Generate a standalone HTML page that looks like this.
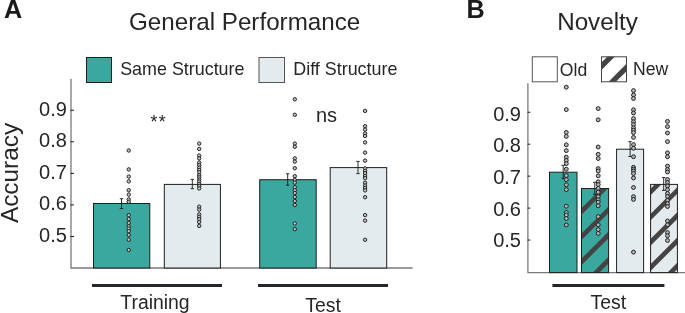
<!DOCTYPE html>
<html><head><meta charset="utf-8"><style>
html,body{margin:0;padding:0;background:#fff;}
svg{display:block;will-change:transform;}
text{font-family:"Liberation Sans", sans-serif;}
</style></head><body>
<svg width="685" height="313" viewBox="0 0 685 313">
<defs><clipPath id="lgnew"><rect x="601.5" y="56.8" width="25" height="25"/></clipPath><clipPath id="hb2"><rect x="581.5" y="188.5" width="27.100000000000023" height="84.10000000000002"/></clipPath><clipPath id="hb4"><rect x="650.6" y="184.4" width="26.799999999999955" height="88.20000000000002"/></clipPath></defs>
<rect width="685" height="313" fill="#fff"/>
<text x="4.1" y="18.0" font-size="25.2" text-anchor="start" font-weight="bold" fill="#1a1a1a" >A</text>
<text x="129.0" y="29.7" font-size="24.2" text-anchor="start" font-weight="normal" fill="#262626" >General Performance</text>
<text x="466.536" y="17.5" font-size="25.2" text-anchor="start" font-weight="bold" fill="#1a1a1a" >B</text>
<text x="557.2" y="29.6" font-size="24.2" text-anchor="start" font-weight="normal" fill="#262626" >Novelty</text>
<rect x="86.5" y="57.5" width="25" height="25" fill="#3aa89e" stroke="#1e1e1e" stroke-width="1"/>
<text x="120.2" y="75.4" font-size="17.9" text-anchor="start" font-weight="normal" fill="#262626" >Same Structure</text>
<rect x="259" y="57.5" width="25.5" height="25" fill="#e3ebee" stroke="#555" stroke-width="1"/>
<text x="293.3" y="75.4" font-size="17.9" text-anchor="start" font-weight="normal" fill="#262626" >Diff Structure</text>
<path d="M71 78.7V268.0H412.6" stroke="#7a7a7a" stroke-width="1.3" fill="none"/>
<path d="M70.4 236.45H74" stroke="#1e1e1e" stroke-width="1.0"/>
<text x="66.9" y="241.75" font-size="20" text-anchor="end" font-weight="normal" fill="#262626" >0.5</text>
<path d="M70.4 204.90H74" stroke="#1e1e1e" stroke-width="1.0"/>
<text x="66.9" y="210.2" font-size="20" text-anchor="end" font-weight="normal" fill="#262626" >0.6</text>
<path d="M70.4 173.35H74" stroke="#1e1e1e" stroke-width="1.0"/>
<text x="66.9" y="178.65" font-size="20" text-anchor="end" font-weight="normal" fill="#262626" >0.7</text>
<path d="M70.4 141.80H74" stroke="#1e1e1e" stroke-width="1.0"/>
<text x="66.9" y="147.1" font-size="20" text-anchor="end" font-weight="normal" fill="#262626" >0.8</text>
<path d="M70.4 110.25H74" stroke="#1e1e1e" stroke-width="1.0"/>
<text x="66.9" y="115.55" font-size="20" text-anchor="end" font-weight="normal" fill="#262626" >0.9</text>
<text transform="translate(17.6 223.1) rotate(-90)" font-size="24.4" fill="#262626">Accuracy</text>
<rect x="93.5" y="203.5" width="56.30000000000001" height="64.5" fill="#3aa89e"/>
<rect x="93.5" y="203.5" width="56.30000000000001" height="64.5" fill="none" stroke="#1e1e1e" stroke-width="1.0"/>
<rect x="164.3" y="184.4" width="56.099999999999994" height="83.6" fill="#e3ebee"/>
<rect x="164.3" y="184.4" width="56.099999999999994" height="83.6" fill="none" stroke="#1e1e1e" stroke-width="1.0"/>
<rect x="259.7" y="179.7" width="56.5" height="88.30000000000001" fill="#3aa89e"/>
<rect x="259.7" y="179.7" width="56.5" height="88.30000000000001" fill="none" stroke="#1e1e1e" stroke-width="1.0"/>
<rect x="330.2" y="167.6" width="56.5" height="100.4" fill="#e3ebee"/>
<rect x="330.2" y="167.6" width="56.5" height="100.4" fill="none" stroke="#1e1e1e" stroke-width="1.0"/>
<path d="M121.5 198.7V208.5M119.8 198.7H123.2M119.8 208.5H123.2" stroke="#1a1a1a" stroke-width="0.9" fill="none"/>
<path d="M192.3 179.4V188.7M190.60000000000002 179.4H194.0M190.60000000000002 188.7H194.0" stroke="#1a1a1a" stroke-width="0.9" fill="none"/>
<path d="M287.7 173.8V185.2M286.0 173.8H289.4M286.0 185.2H289.4" stroke="#1a1a1a" stroke-width="0.9" fill="none"/>
<path d="M358.0 161.4V173.6M356.3 161.4H359.7M356.3 173.6H359.7" stroke="#1a1a1a" stroke-width="0.9" fill="none"/>
<circle cx="128.75" cy="150.5" r="1.7" fill="#c4c4c4" stroke="#222" stroke-width="1.0"/>
<circle cx="128.75" cy="169.4" r="1.7" fill="#c4c4c4" stroke="#222" stroke-width="1.0"/>
<circle cx="128.75" cy="176.6" r="1.7" fill="#c4c4c4" stroke="#222" stroke-width="1.0"/>
<circle cx="128.75" cy="181.4" r="1.7" fill="#c4c4c4" stroke="#222" stroke-width="1.0"/>
<circle cx="128.75" cy="190.2" r="1.7" fill="#c4c4c4" stroke="#222" stroke-width="1.0"/>
<circle cx="128.75" cy="194.6" r="1.7" fill="#c4c4c4" stroke="#222" stroke-width="1.0"/>
<circle cx="128.75" cy="199.4" r="1.7" fill="#c4c4c4" stroke="#222" stroke-width="1.0"/>
<circle cx="128.75" cy="201.8" r="1.7" fill="#c4c4c4" stroke="#222" stroke-width="1.0"/>
<circle cx="128.75" cy="215.2" r="1.7" fill="#c4c4c4" stroke="#222" stroke-width="1.0"/>
<circle cx="128.75" cy="219" r="1.7" fill="#c4c4c4" stroke="#222" stroke-width="1.0"/>
<circle cx="128.75" cy="222.9" r="1.7" fill="#c4c4c4" stroke="#222" stroke-width="1.0"/>
<circle cx="128.75" cy="226.2" r="1.7" fill="#c4c4c4" stroke="#222" stroke-width="1.0"/>
<circle cx="128.75" cy="228.6" r="1.7" fill="#c4c4c4" stroke="#222" stroke-width="1.0"/>
<circle cx="128.75" cy="231.2" r="1.7" fill="#c4c4c4" stroke="#222" stroke-width="1.0"/>
<circle cx="128.75" cy="235" r="1.7" fill="#c4c4c4" stroke="#222" stroke-width="1.0"/>
<circle cx="128.75" cy="239.7" r="1.7" fill="#c4c4c4" stroke="#222" stroke-width="1.0"/>
<circle cx="128.75" cy="250" r="1.7" fill="#c4c4c4" stroke="#222" stroke-width="1.0"/>
<circle cx="199.2" cy="143.6" r="1.7" fill="#c4c4c4" stroke="#222" stroke-width="1.0"/>
<circle cx="199.2" cy="148.9" r="1.7" fill="#c4c4c4" stroke="#222" stroke-width="1.0"/>
<circle cx="199.2" cy="155.6" r="1.7" fill="#c4c4c4" stroke="#222" stroke-width="1.0"/>
<circle cx="199.2" cy="158.4" r="1.7" fill="#c4c4c4" stroke="#222" stroke-width="1.0"/>
<circle cx="199.2" cy="162.6" r="1.7" fill="#c4c4c4" stroke="#222" stroke-width="1.0"/>
<circle cx="199.2" cy="165" r="1.7" fill="#c4c4c4" stroke="#222" stroke-width="1.0"/>
<circle cx="199.2" cy="167.6" r="1.7" fill="#c4c4c4" stroke="#222" stroke-width="1.0"/>
<circle cx="199.2" cy="170" r="1.7" fill="#c4c4c4" stroke="#222" stroke-width="1.0"/>
<circle cx="199.2" cy="172.4" r="1.7" fill="#c4c4c4" stroke="#222" stroke-width="1.0"/>
<circle cx="199.2" cy="175.2" r="1.7" fill="#c4c4c4" stroke="#222" stroke-width="1.0"/>
<circle cx="199.2" cy="177.4" r="1.7" fill="#c4c4c4" stroke="#222" stroke-width="1.0"/>
<circle cx="199.2" cy="179.6" r="1.7" fill="#c4c4c4" stroke="#222" stroke-width="1.0"/>
<circle cx="199.2" cy="181.6" r="1.7" fill="#c4c4c4" stroke="#222" stroke-width="1.0"/>
<circle cx="199.2" cy="184" r="1.7" fill="#c4c4c4" stroke="#222" stroke-width="1.0"/>
<circle cx="199.2" cy="186" r="1.7" fill="#c4c4c4" stroke="#222" stroke-width="1.0"/>
<circle cx="199.2" cy="188.4" r="1.7" fill="#c4c4c4" stroke="#222" stroke-width="1.0"/>
<circle cx="199.2" cy="206.7" r="1.7" fill="#c4c4c4" stroke="#222" stroke-width="1.0"/>
<circle cx="199.2" cy="209.6" r="1.7" fill="#c4c4c4" stroke="#222" stroke-width="1.0"/>
<circle cx="199.2" cy="214.4" r="1.7" fill="#c4c4c4" stroke="#222" stroke-width="1.0"/>
<circle cx="199.2" cy="216.8" r="1.7" fill="#c4c4c4" stroke="#222" stroke-width="1.0"/>
<circle cx="199.2" cy="219.2" r="1.7" fill="#c4c4c4" stroke="#222" stroke-width="1.0"/>
<circle cx="199.2" cy="222" r="1.7" fill="#c4c4c4" stroke="#222" stroke-width="1.0"/>
<circle cx="199.2" cy="225.9" r="1.7" fill="#c4c4c4" stroke="#222" stroke-width="1.0"/>
<circle cx="294.8" cy="99.3" r="1.7" fill="#c4c4c4" stroke="#222" stroke-width="1.0"/>
<circle cx="294.8" cy="114.8" r="1.7" fill="#c4c4c4" stroke="#222" stroke-width="1.0"/>
<circle cx="294.8" cy="143.6" r="1.7" fill="#c4c4c4" stroke="#222" stroke-width="1.0"/>
<circle cx="294.8" cy="146.8" r="1.7" fill="#c4c4c4" stroke="#222" stroke-width="1.0"/>
<circle cx="294.8" cy="158.4" r="1.7" fill="#c4c4c4" stroke="#222" stroke-width="1.0"/>
<circle cx="294.8" cy="161.6" r="1.7" fill="#c4c4c4" stroke="#222" stroke-width="1.0"/>
<circle cx="294.8" cy="168.2" r="1.7" fill="#c4c4c4" stroke="#222" stroke-width="1.0"/>
<circle cx="294.8" cy="176.2" r="1.7" fill="#c4c4c4" stroke="#222" stroke-width="1.0"/>
<circle cx="294.8" cy="179.8" r="1.7" fill="#c4c4c4" stroke="#222" stroke-width="1.0"/>
<circle cx="294.8" cy="182.6" r="1.7" fill="#c4c4c4" stroke="#222" stroke-width="1.0"/>
<circle cx="294.8" cy="187.2" r="1.7" fill="#c4c4c4" stroke="#222" stroke-width="1.0"/>
<circle cx="294.8" cy="190.2" r="1.7" fill="#c4c4c4" stroke="#222" stroke-width="1.0"/>
<circle cx="294.8" cy="193" r="1.7" fill="#c4c4c4" stroke="#222" stroke-width="1.0"/>
<circle cx="294.8" cy="197" r="1.7" fill="#c4c4c4" stroke="#222" stroke-width="1.0"/>
<circle cx="294.8" cy="201" r="1.7" fill="#c4c4c4" stroke="#222" stroke-width="1.0"/>
<circle cx="294.8" cy="205" r="1.7" fill="#c4c4c4" stroke="#222" stroke-width="1.0"/>
<circle cx="294.8" cy="223.5" r="1.7" fill="#c4c4c4" stroke="#222" stroke-width="1.0"/>
<circle cx="294.8" cy="229.1" r="1.7" fill="#c4c4c4" stroke="#222" stroke-width="1.0"/>
<circle cx="365.1" cy="110.9" r="1.7" fill="#c4c4c4" stroke="#222" stroke-width="1.0"/>
<circle cx="365.1" cy="126.2" r="1.7" fill="#c4c4c4" stroke="#222" stroke-width="1.0"/>
<circle cx="365.1" cy="129.6" r="1.7" fill="#c4c4c4" stroke="#222" stroke-width="1.0"/>
<circle cx="365.1" cy="133.5" r="1.7" fill="#c4c4c4" stroke="#222" stroke-width="1.0"/>
<circle cx="365.1" cy="136" r="1.7" fill="#c4c4c4" stroke="#222" stroke-width="1.0"/>
<circle cx="365.1" cy="142.4" r="1.7" fill="#c4c4c4" stroke="#222" stroke-width="1.0"/>
<circle cx="365.1" cy="152.6" r="1.7" fill="#c4c4c4" stroke="#222" stroke-width="1.0"/>
<circle cx="365.1" cy="160.6" r="1.7" fill="#c4c4c4" stroke="#222" stroke-width="1.0"/>
<circle cx="365.1" cy="168.4" r="1.7" fill="#c4c4c4" stroke="#222" stroke-width="1.0"/>
<circle cx="365.1" cy="170.8" r="1.7" fill="#c4c4c4" stroke="#222" stroke-width="1.0"/>
<circle cx="365.1" cy="173.2" r="1.7" fill="#c4c4c4" stroke="#222" stroke-width="1.0"/>
<circle cx="365.1" cy="176" r="1.7" fill="#c4c4c4" stroke="#222" stroke-width="1.0"/>
<circle cx="365.1" cy="178.2" r="1.7" fill="#c4c4c4" stroke="#222" stroke-width="1.0"/>
<circle cx="365.1" cy="182.8" r="1.7" fill="#c4c4c4" stroke="#222" stroke-width="1.0"/>
<circle cx="365.1" cy="185.6" r="1.7" fill="#c4c4c4" stroke="#222" stroke-width="1.0"/>
<circle cx="365.1" cy="188" r="1.7" fill="#c4c4c4" stroke="#222" stroke-width="1.0"/>
<circle cx="365.1" cy="190.4" r="1.7" fill="#c4c4c4" stroke="#222" stroke-width="1.0"/>
<circle cx="365.1" cy="197.2" r="1.7" fill="#c4c4c4" stroke="#222" stroke-width="1.0"/>
<circle cx="365.1" cy="215.1" r="1.7" fill="#c4c4c4" stroke="#222" stroke-width="1.0"/>
<circle cx="365.1" cy="220.6" r="1.7" fill="#c4c4c4" stroke="#222" stroke-width="1.0"/>
<circle cx="365.1" cy="239.8" r="1.7" fill="#c4c4c4" stroke="#222" stroke-width="1.0"/>
<rect x="92" y="284" width="130" height="3" fill="#24282c"/>
<rect x="258" y="284" width="130" height="3" fill="#24282c"/>
<text x="120.3" y="309.3" font-size="19.4" text-anchor="start" font-weight="normal" fill="#262626" >Training</text>
<text x="305.3" y="311.8" font-size="19.4" text-anchor="start" font-weight="normal" fill="#262626" >Test</text>
<text x="150.4" y="128.0" font-size="17.8" text-anchor="start" font-weight="normal" fill="#222" >*</text>
<text x="158.7" y="128.0" font-size="17.8" text-anchor="start" font-weight="normal" fill="#222" >*</text>
<text x="315.9" y="121.6" font-size="20" text-anchor="start" font-weight="normal" fill="#262626" >ns</text>
<rect x="532.3" y="56.8" width="25" height="25" fill="#ffffff" stroke="#555" stroke-width="1"/>
<text x="559.8" y="75.7" font-size="17.6" text-anchor="start" font-weight="normal" fill="#262626" >Old</text>
<rect x="601.5" y="56.8" width="25" height="25" fill="#ffffff"/>
<g clip-path="url(#lgnew)" fill="#444444"><polygon points="596.50,-11.40 631.50,-46.40 631.50,-39.00 596.50,-4.00"/><polygon points="596.50,14.90 631.50,-20.10 631.50,-12.70 596.50,22.30"/><polygon points="596.50,41.20 631.50,6.20 631.50,13.60 596.50,48.60"/><polygon points="596.50,67.50 631.50,32.50 631.50,39.90 596.50,74.90"/><polygon points="596.50,93.80 631.50,58.80 631.50,66.20 596.50,101.20"/><polygon points="596.50,120.10 631.50,85.10 631.50,92.50 596.50,127.50"/><polygon points="596.50,146.40 631.50,111.40 631.50,118.80 596.50,153.80"/><polygon points="596.50,172.70 631.50,137.70 631.50,145.10 596.50,180.10"/></g>
<rect x="601.5" y="56.8" width="25" height="25" fill="none" stroke="#444" stroke-width="1"/>
<text x="633.1" y="75.4" font-size="17.6" text-anchor="start" font-weight="normal" fill="#262626" >New</text>
<path d="M527.9 83.2V272.6H685" stroke="#7a7a7a" stroke-width="1.3" fill="none"/>
<path d="M527.6 240.05H530.3" stroke="#1e1e1e" stroke-width="1.0"/>
<text x="521.0" y="247.1" font-size="20" text-anchor="end" font-weight="normal" fill="#262626" >0.5</text>
<path d="M527.6 208.10H530.3" stroke="#1e1e1e" stroke-width="1.0"/>
<text x="521.0" y="215.5" font-size="20" text-anchor="end" font-weight="normal" fill="#262626" >0.6</text>
<path d="M527.6 176.15H530.3" stroke="#1e1e1e" stroke-width="1.0"/>
<text x="521.0" y="183.9" font-size="20" text-anchor="end" font-weight="normal" fill="#262626" >0.7</text>
<path d="M527.6 144.20H530.3" stroke="#1e1e1e" stroke-width="1.0"/>
<text x="521.0" y="152.3" font-size="20" text-anchor="end" font-weight="normal" fill="#262626" >0.8</text>
<path d="M527.6 112.25H530.3" stroke="#1e1e1e" stroke-width="1.0"/>
<text x="521.0" y="120.7" font-size="20" text-anchor="end" font-weight="normal" fill="#262626" >0.9</text>
<rect x="549.5" y="172.2" width="27.5" height="100.40000000000003" fill="#3aa89e"/>
<rect x="549.5" y="172.2" width="27.5" height="100.40000000000003" fill="none" stroke="#1e1e1e" stroke-width="1.0"/>
<rect x="581.5" y="188.5" width="27.100000000000023" height="84.10000000000002" fill="#3aa89e"/>
<g clip-path="url(#hb2)" fill="#444444"><polygon points="576.50,137.60 613.60,100.50 613.60,107.10 576.50,144.20"/><polygon points="576.50,162.80 613.60,125.70 613.60,132.30 576.50,169.40"/><polygon points="576.50,188.00 613.60,150.90 613.60,157.50 576.50,194.60"/><polygon points="576.50,213.20 613.60,176.10 613.60,182.70 576.50,219.80"/><polygon points="576.50,238.40 613.60,201.30 613.60,207.90 576.50,245.00"/><polygon points="576.50,263.60 613.60,226.50 613.60,233.10 576.50,270.20"/><polygon points="576.50,288.80 613.60,251.70 613.60,258.30 576.50,295.40"/><polygon points="576.50,314.00 613.60,276.90 613.60,283.50 576.50,320.60"/><polygon points="576.50,339.20 613.60,302.10 613.60,308.70 576.50,345.80"/><polygon points="576.50,364.40 613.60,327.30 613.60,333.90 576.50,371.00"/></g>
<rect x="581.5" y="188.5" width="27.100000000000023" height="84.10000000000002" fill="none" stroke="#1e1e1e" stroke-width="1.0"/>
<rect x="616.6" y="149.2" width="27.0" height="123.40000000000003" fill="#e3ebee"/>
<rect x="616.6" y="149.2" width="27.0" height="123.40000000000003" fill="none" stroke="#1e1e1e" stroke-width="1.0"/>
<rect x="650.6" y="184.4" width="26.799999999999955" height="88.20000000000002" fill="#e3ebee"/>
<g clip-path="url(#hb4)" fill="#444444"><polygon points="645.60,118.00 682.40,81.20 682.40,87.80 645.60,124.60"/><polygon points="645.60,143.20 682.40,106.40 682.40,113.00 645.60,149.80"/><polygon points="645.60,168.40 682.40,131.60 682.40,138.20 645.60,175.00"/><polygon points="645.60,193.60 682.40,156.80 682.40,163.40 645.60,200.20"/><polygon points="645.60,218.80 682.40,182.00 682.40,188.60 645.60,225.40"/><polygon points="645.60,244.00 682.40,207.20 682.40,213.80 645.60,250.60"/><polygon points="645.60,269.20 682.40,232.40 682.40,239.00 645.60,275.80"/><polygon points="645.60,294.40 682.40,257.60 682.40,264.20 645.60,301.00"/><polygon points="645.60,319.60 682.40,282.80 682.40,289.40 645.60,326.20"/><polygon points="645.60,344.80 682.40,308.00 682.40,314.60 645.60,351.40"/><polygon points="645.60,370.00 682.40,333.20 682.40,339.80 645.60,376.60"/></g>
<rect x="650.6" y="184.4" width="26.799999999999955" height="88.20000000000002" fill="none" stroke="#1e1e1e" stroke-width="1.0"/>
<path d="M563.2 165.3V178.6M561.5 165.3H564.9000000000001M561.5 178.6H564.9000000000001" stroke="#1a1a1a" stroke-width="0.9" fill="none"/>
<path d="M594.8 182.3V194.3M593.0999999999999 182.3H596.5M593.0999999999999 194.3H596.5" stroke="#1a1a1a" stroke-width="0.9" fill="none"/>
<path d="M630.1 141.6V156.5M628.4 141.6H631.8000000000001M628.4 156.5H631.8000000000001" stroke="#1a1a1a" stroke-width="0.9" fill="none"/>
<path d="M663.7 177.5V190.4M662.0 177.5H665.4000000000001M662.0 190.4H665.4000000000001" stroke="#1a1a1a" stroke-width="0.9" fill="none"/>
<circle cx="566.3" cy="87.2" r="1.95" fill="#b4b4b4" stroke="#222" stroke-width="1.0"/>
<circle cx="566.3" cy="109.6" r="1.95" fill="#b4b4b4" stroke="#222" stroke-width="1.0"/>
<circle cx="566.3" cy="132.4" r="1.95" fill="#b4b4b4" stroke="#222" stroke-width="1.0"/>
<circle cx="566.3" cy="136.4" r="1.95" fill="#b4b4b4" stroke="#222" stroke-width="1.0"/>
<circle cx="566.3" cy="144.8" r="1.95" fill="#b4b4b4" stroke="#222" stroke-width="1.0"/>
<circle cx="566.3" cy="150.6" r="1.95" fill="#b4b4b4" stroke="#222" stroke-width="1.0"/>
<circle cx="566.3" cy="157.2" r="1.95" fill="#b4b4b4" stroke="#222" stroke-width="1.0"/>
<circle cx="566.3" cy="160.4" r="1.95" fill="#b4b4b4" stroke="#222" stroke-width="1.0"/>
<circle cx="566.3" cy="163.6" r="1.95" fill="#b4b4b4" stroke="#222" stroke-width="1.0"/>
<circle cx="566.3" cy="169.2" r="1.95" fill="#b4b4b4" stroke="#222" stroke-width="1.0"/>
<circle cx="566.3" cy="175.6" r="1.95" fill="#b4b4b4" stroke="#222" stroke-width="1.0"/>
<circle cx="566.3" cy="179.6" r="1.95" fill="#b4b4b4" stroke="#222" stroke-width="1.0"/>
<circle cx="566.3" cy="184.8" r="1.95" fill="#b4b4b4" stroke="#222" stroke-width="1.0"/>
<circle cx="566.3" cy="189.6" r="1.95" fill="#b4b4b4" stroke="#222" stroke-width="1.0"/>
<circle cx="566.3" cy="206.2" r="1.95" fill="#b4b4b4" stroke="#222" stroke-width="1.0"/>
<circle cx="566.3" cy="212.5" r="1.95" fill="#b4b4b4" stroke="#222" stroke-width="1.0"/>
<circle cx="566.3" cy="215" r="1.95" fill="#b4b4b4" stroke="#222" stroke-width="1.0"/>
<circle cx="566.3" cy="218.5" r="1.95" fill="#b4b4b4" stroke="#222" stroke-width="1.0"/>
<circle cx="566.3" cy="225" r="1.95" fill="#b4b4b4" stroke="#222" stroke-width="1.0"/>
<circle cx="598.2" cy="108.6" r="1.95" fill="#b4b4b4" stroke="#222" stroke-width="1.0"/>
<circle cx="598.2" cy="119.8" r="1.95" fill="#b4b4b4" stroke="#222" stroke-width="1.0"/>
<circle cx="598.2" cy="147" r="1.95" fill="#b4b4b4" stroke="#222" stroke-width="1.0"/>
<circle cx="598.2" cy="154.3" r="1.95" fill="#b4b4b4" stroke="#222" stroke-width="1.0"/>
<circle cx="598.2" cy="158.5" r="1.95" fill="#b4b4b4" stroke="#222" stroke-width="1.0"/>
<circle cx="598.2" cy="168.6" r="1.95" fill="#b4b4b4" stroke="#222" stroke-width="1.0"/>
<circle cx="598.2" cy="171" r="1.95" fill="#b4b4b4" stroke="#222" stroke-width="1.0"/>
<circle cx="598.2" cy="175.8" r="1.95" fill="#b4b4b4" stroke="#222" stroke-width="1.0"/>
<circle cx="598.2" cy="181.8" r="1.95" fill="#b4b4b4" stroke="#222" stroke-width="1.0"/>
<circle cx="598.2" cy="184.6" r="1.95" fill="#b4b4b4" stroke="#222" stroke-width="1.0"/>
<circle cx="598.2" cy="188.4" r="1.95" fill="#b4b4b4" stroke="#222" stroke-width="1.0"/>
<circle cx="598.2" cy="192.2" r="1.95" fill="#b4b4b4" stroke="#222" stroke-width="1.0"/>
<circle cx="598.2" cy="196.6" r="1.95" fill="#b4b4b4" stroke="#222" stroke-width="1.0"/>
<circle cx="598.2" cy="199.8" r="1.95" fill="#b4b4b4" stroke="#222" stroke-width="1.0"/>
<circle cx="598.2" cy="202.2" r="1.95" fill="#b4b4b4" stroke="#222" stroke-width="1.0"/>
<circle cx="598.2" cy="205.8" r="1.95" fill="#b4b4b4" stroke="#222" stroke-width="1.0"/>
<circle cx="598.2" cy="216.6" r="1.95" fill="#b4b4b4" stroke="#222" stroke-width="1.0"/>
<circle cx="598.2" cy="224.8" r="1.95" fill="#b4b4b4" stroke="#222" stroke-width="1.0"/>
<circle cx="598.2" cy="229.6" r="1.95" fill="#b4b4b4" stroke="#222" stroke-width="1.0"/>
<circle cx="598.2" cy="233.4" r="1.95" fill="#b4b4b4" stroke="#222" stroke-width="1.0"/>
<circle cx="633.5" cy="90.6" r="1.95" fill="#b4b4b4" stroke="#222" stroke-width="1.0"/>
<circle cx="633.5" cy="95" r="1.95" fill="#b4b4b4" stroke="#222" stroke-width="1.0"/>
<circle cx="633.5" cy="98.5" r="1.95" fill="#b4b4b4" stroke="#222" stroke-width="1.0"/>
<circle cx="633.5" cy="109.8" r="1.95" fill="#b4b4b4" stroke="#222" stroke-width="1.0"/>
<circle cx="633.5" cy="113" r="1.95" fill="#b4b4b4" stroke="#222" stroke-width="1.0"/>
<circle cx="633.5" cy="118.6" r="1.95" fill="#b4b4b4" stroke="#222" stroke-width="1.0"/>
<circle cx="633.5" cy="121.8" r="1.95" fill="#b4b4b4" stroke="#222" stroke-width="1.0"/>
<circle cx="633.5" cy="124.6" r="1.95" fill="#b4b4b4" stroke="#222" stroke-width="1.0"/>
<circle cx="633.5" cy="127.8" r="1.95" fill="#b4b4b4" stroke="#222" stroke-width="1.0"/>
<circle cx="633.5" cy="130.2" r="1.95" fill="#b4b4b4" stroke="#222" stroke-width="1.0"/>
<circle cx="633.5" cy="132.6" r="1.95" fill="#b4b4b4" stroke="#222" stroke-width="1.0"/>
<circle cx="633.5" cy="137.4" r="1.95" fill="#b4b4b4" stroke="#222" stroke-width="1.0"/>
<circle cx="633.5" cy="144.6" r="1.95" fill="#b4b4b4" stroke="#222" stroke-width="1.0"/>
<circle cx="633.5" cy="148.2" r="1.95" fill="#b4b4b4" stroke="#222" stroke-width="1.0"/>
<circle cx="633.5" cy="156.7" r="1.95" fill="#b4b4b4" stroke="#222" stroke-width="1.0"/>
<circle cx="633.5" cy="167.3" r="1.95" fill="#b4b4b4" stroke="#222" stroke-width="1.0"/>
<circle cx="633.5" cy="169.2" r="1.95" fill="#b4b4b4" stroke="#222" stroke-width="1.0"/>
<circle cx="633.5" cy="171.1" r="1.95" fill="#b4b4b4" stroke="#222" stroke-width="1.0"/>
<circle cx="633.5" cy="173.5" r="1.95" fill="#b4b4b4" stroke="#222" stroke-width="1.0"/>
<circle cx="633.5" cy="178" r="1.95" fill="#b4b4b4" stroke="#222" stroke-width="1.0"/>
<circle cx="633.5" cy="187.5" r="1.95" fill="#b4b4b4" stroke="#222" stroke-width="1.0"/>
<circle cx="633.5" cy="196.6" r="1.95" fill="#b4b4b4" stroke="#222" stroke-width="1.0"/>
<circle cx="633.5" cy="199.4" r="1.95" fill="#b4b4b4" stroke="#222" stroke-width="1.0"/>
<circle cx="633.5" cy="252.1" r="1.95" fill="#b4b4b4" stroke="#222" stroke-width="1.0"/>
<circle cx="667.5" cy="121.4" r="1.95" fill="#b4b4b4" stroke="#222" stroke-width="1.0"/>
<circle cx="667.5" cy="126.6" r="1.95" fill="#b4b4b4" stroke="#222" stroke-width="1.0"/>
<circle cx="667.5" cy="133" r="1.95" fill="#b4b4b4" stroke="#222" stroke-width="1.0"/>
<circle cx="667.5" cy="141.6" r="1.95" fill="#b4b4b4" stroke="#222" stroke-width="1.0"/>
<circle cx="667.5" cy="152.8" r="1.95" fill="#b4b4b4" stroke="#222" stroke-width="1.0"/>
<circle cx="667.5" cy="156.8" r="1.95" fill="#b4b4b4" stroke="#222" stroke-width="1.0"/>
<circle cx="667.5" cy="166" r="1.95" fill="#b4b4b4" stroke="#222" stroke-width="1.0"/>
<circle cx="667.5" cy="169.5" r="1.95" fill="#b4b4b4" stroke="#222" stroke-width="1.0"/>
<circle cx="667.5" cy="172" r="1.95" fill="#b4b4b4" stroke="#222" stroke-width="1.0"/>
<circle cx="667.5" cy="179.5" r="1.95" fill="#b4b4b4" stroke="#222" stroke-width="1.0"/>
<circle cx="667.5" cy="182.5" r="1.95" fill="#b4b4b4" stroke="#222" stroke-width="1.0"/>
<circle cx="667.5" cy="186" r="1.95" fill="#b4b4b4" stroke="#222" stroke-width="1.0"/>
<circle cx="667.5" cy="189.7" r="1.95" fill="#b4b4b4" stroke="#222" stroke-width="1.0"/>
<circle cx="667.5" cy="193.5" r="1.95" fill="#b4b4b4" stroke="#222" stroke-width="1.0"/>
<circle cx="667.5" cy="196.4" r="1.95" fill="#b4b4b4" stroke="#222" stroke-width="1.0"/>
<circle cx="667.5" cy="200.3" r="1.95" fill="#b4b4b4" stroke="#222" stroke-width="1.0"/>
<circle cx="667.5" cy="203.6" r="1.95" fill="#b4b4b4" stroke="#222" stroke-width="1.0"/>
<circle cx="667.5" cy="206.5" r="1.95" fill="#b4b4b4" stroke="#222" stroke-width="1.0"/>
<circle cx="667.5" cy="221" r="1.95" fill="#b4b4b4" stroke="#222" stroke-width="1.0"/>
<circle cx="667.5" cy="224.7" r="1.95" fill="#b4b4b4" stroke="#222" stroke-width="1.0"/>
<circle cx="667.5" cy="232.6" r="1.95" fill="#b4b4b4" stroke="#222" stroke-width="1.0"/>
<circle cx="667.5" cy="235.7" r="1.95" fill="#b4b4b4" stroke="#222" stroke-width="1.0"/>
<circle cx="667.5" cy="240.5" r="1.95" fill="#b4b4b4" stroke="#222" stroke-width="1.0"/>
<rect x="552.4" y="284" width="112" height="3" fill="#24282c"/>
<text x="590.6" y="308.7" font-size="19.4" text-anchor="start" font-weight="normal" fill="#262626" >Test</text>
</svg>
</body></html>
